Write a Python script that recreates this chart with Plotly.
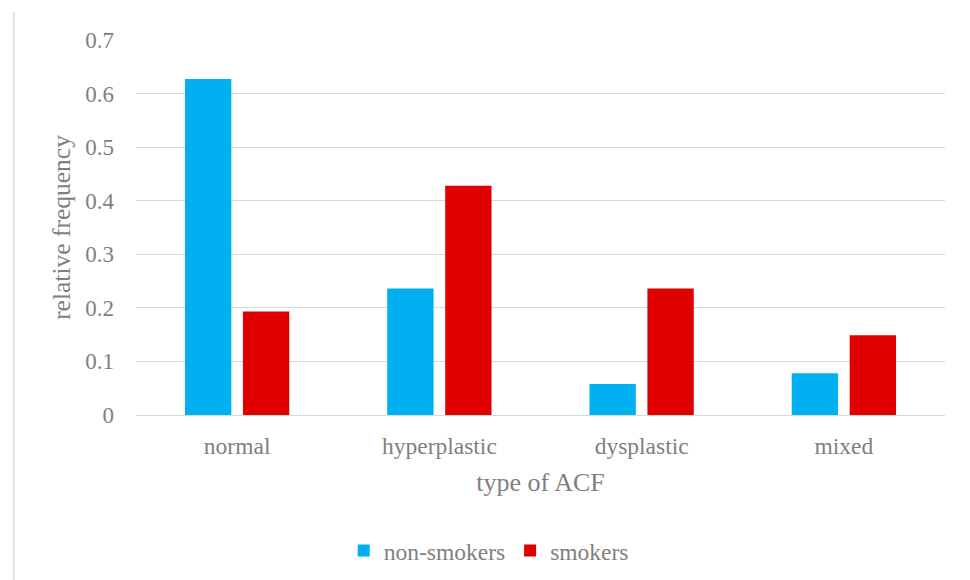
import plotly.graph_objects as go

categories = ["normal", "hyperplastic", "dysplastic", "mixed"]
non_smokers = [0.627, 0.236, 0.058, 0.078]
smokers = [0.193, 0.428, 0.236, 0.149]
y_ticks = [0, 0.1, 0.2, 0.3, 0.4, 0.5, 0.6, 0.7]
y_tick_labels = ["0", "0.1", "0.2", "0.3", "0.4", "0.5", "0.6", "0.7"]

FONT = "Liberation Serif, Times New Roman, serif"
GRAY = "#7f7f7f"

fig = go.Figure()
fig.add_trace(go.Bar(x=categories, y=non_smokers, name="non-smokers",
                     marker=dict(color="#00B0F0", line=dict(width=0))))
fig.add_trace(go.Bar(x=categories, y=smokers, name="smokers",
                     marker=dict(color="#E00000", line=dict(width=0))))

fig.update_layout(
    width=970, height=580,
    margin=dict(l=128, r=33, t=32, b=173),
    paper_bgcolor="white", plot_bgcolor="white",
    barmode="group", bargap=0.427, bargroupgap=0.2,
    font=dict(family=FONT, color=GRAY, size=23),
    showlegend=True,
    legend=dict(orientation="h", x=0.436, xanchor="center", y=-0.362, yanchor="middle",
                font=dict(family=FONT, size=23.5, color=GRAY), itemwidth=30,
                traceorder="normal"),
    xaxis=dict(showgrid=False, showline=True, linecolor="#d9d9d9", linewidth=1,
               ticks="", automargin=False, ticklabelstandoff=10,
               tickfont=dict(family=FONT, size=23.5, color=GRAY),
               title=dict(text="type of ACF", font=dict(family=FONT, size=26, color=GRAY), standoff=14)),
    yaxis=dict(range=[0, 0.7], tickvals=y_ticks, ticktext=y_tick_labels,
               showgrid=True, gridcolor="#d9d9d9", gridwidth=1, zeroline=False,
               showline=False, ticks="", ticklabelstandoff=21, automargin=False,
               tickfont=dict(family=FONT, size=23, color=GRAY),
               title=dict(text="relative frequency", font=dict(family=FONT, size=25.5, color=GRAY), standoff=7)),
)

fig.add_shape(type="line", xref="paper", yref="paper",
              x0=-0.151, x1=-0.151, y0=-0.45, y1=1.075,
              line=dict(color="#d9d9d9", width=1.5))

fig.write_html("out.html")
